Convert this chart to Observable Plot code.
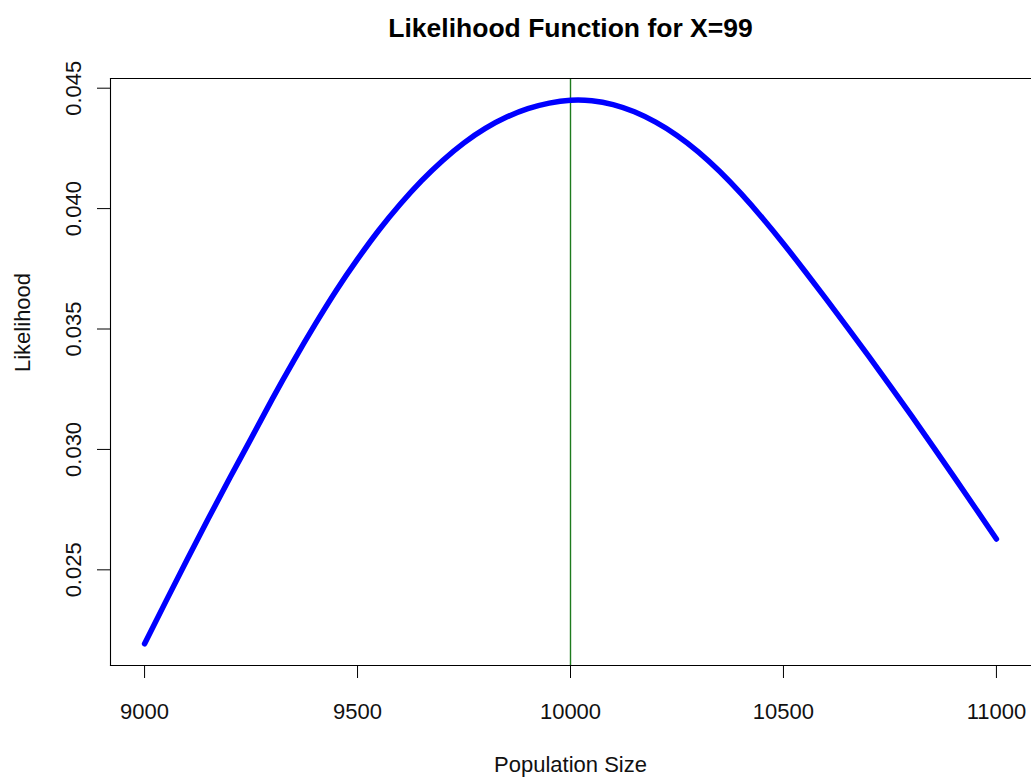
<!DOCTYPE html>
<html>
<head>
<meta charset="utf-8">
<script src="https://cdn.jsdelivr.net/npm/d3@7"></script>
<script src="https://cdn.jsdelivr.net/npm/@observablehq/plot@0.6"></script>
<style>
  html, body { margin: 0; padding: 0; background: #fff; }
  #chart svg { display: block; }
</style>
</head>
<body>
<div id="chart"></div>
<script>
const titleText = "Likelihood Function for X=99";
const xLabel = "Population Size";
const yLabel = "Likelihood";

const populationSize = [
  9000, 9050, 9100, 9150, 9200, 9250, 9300, 9350, 9400, 9450,
  9500, 9550, 9600, 9650, 9700, 9750, 9800, 9850, 9900, 9950,
  10000, 10050, 10100, 10150, 10200, 10250, 10300, 10350, 10400, 10450,
  10500, 10550, 10600, 10650, 10700, 10750, 10800, 10850, 10900, 10950, 11000
];
const likelihood = [
  0.02193, 0.02369, 0.02543, 0.02714, 0.02881, 0.03045, 0.03210, 0.03368, 0.03518, 0.03660,
  0.03790, 0.03910, 0.04018, 0.04115, 0.04200, 0.04273, 0.04333, 0.04380, 0.04415, 0.04438,
  0.04450, 0.04448, 0.04432, 0.04402, 0.04359, 0.04304, 0.04236, 0.04155, 0.04063, 0.03962,
  0.03854, 0.03741, 0.03625, 0.03507, 0.03387, 0.03265, 0.03141, 0.03015, 0.02887, 0.02758, 0.02628
];
const xTicks = [9000, 9500, 10000, 10500, 11000];
const yTicks = [0.025, 0.030, 0.035, 0.040, 0.045];
const yTickLabels = ["0.025", "0.030", "0.035", "0.040", "0.045"];
const mleLine = [10000];

const data = populationSize.map((n, i) => ({n, L: likelihood[i]}));

function pad(ext) {
  const r = ext[1] - ext[0];
  return [ext[0] - 0.04 * r, ext[1] + 0.04 * r];
}
const xDomain = pad(d3.extent(populationSize));
const yDomain = pad(d3.extent(likelihood));

const font = "'Liberation Sans', Arial, Helvetica, sans-serif";

const chart = Plot.plot({
  width: 1031,
  height: 778,
  marginLeft: 110,
  marginRight: 1,
  marginTop: 78,
  marginBottom: 113,
  style: {fontFamily: font, background: "#fff", color: "#000"},
  x: {domain: xDomain, axis: null},
  y: {domain: yDomain, axis: null},
  marks: [
    Plot.ruleX(mleLine, {x: d => d, stroke: "#1e7b1e", strokeWidth: 1.4}),
    Plot.line(data, {x: "n", y: "L", stroke: "#0000ff", strokeWidth: 5.5, strokeLinecap: "round", strokeLinejoin: "round", curve: "natural"}),
    Plot.frame({anchor: "left", stroke: "#000", strokeWidth: 1.1}),
    Plot.frame({anchor: "top", stroke: "#000", strokeWidth: 1.1}),
    Plot.frame({anchor: "bottom", stroke: "#000", strokeWidth: 1.1}),
    Plot.axisX({ticks: xTicks, tickSize: 13, tickFormat: () => "", label: null, stroke: "#000"}),
    Plot.axisY({ticks: yTicks, tickSize: 13, tickFormat: () => "", label: null, stroke: "#000"}),
    Plot.text(xTicks, {x: d => d, text: d => String(d), frameAnchor: "bottom", dy: 46, lineAnchor: "middle", fontSize: 22, fill: "#111"}),
    Plot.text(yTicks, {y: d => d, text: (d, i) => yTickLabels[i], frameAnchor: "left", dx: -37, rotate: -90, lineAnchor: "middle", textAnchor: "middle", fontSize: 22, fill: "#111"}),
    Plot.text([xLabel], {text: d => d, frameAnchor: "bottom", dy: 99, lineAnchor: "middle", fontSize: 22, fill: "#111"}),
    Plot.text([yLabel], {text: d => d, frameAnchor: "left", dx: -88, rotate: -90, lineAnchor: "middle", fontSize: 22, fill: "#111"}),
    Plot.text([titleText], {text: d => d, frameAnchor: "top", dy: -50, lineAnchor: "middle", fontSize: 26.5, fontWeight: "bold", fill: "#000"})
  ]
});
document.getElementById("chart").appendChild(chart);
</script>
</body>
</html>
